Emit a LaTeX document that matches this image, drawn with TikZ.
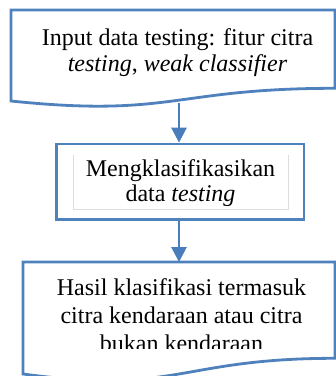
\documentclass[tikz,border=0pt]{standalone}
\usepackage{fontspec}
\setmainfont{Liberation Serif}
\usetikzlibrary{arrows.meta}
\definecolor{boxblue}{RGB}{79,129,189}
\definecolor{arrblue}{RGB}{74,126,187}
\definecolor{faint}{RGB}{222,222,222}
\begin{document}
\begin{tikzpicture}[x=1pt,y=-1pt,
  boxline/.style={draw=boxblue,line width=2.8pt,line join=miter},
  arr/.style={draw=arrblue,line width=2.8pt,-{Triangle[length=15pt,width=15pt]}},
  txt/.style={anchor=base,inner sep=0pt,font=\fontsize{24}{28}\selectfont}]
\useasboundingbox (0,0) rectangle (336,376);
% top document shape
\draw[boxline,fill=white] (11,10) -- (335,10) -- (335,88.3)
  .. controls (173,88.3) and (173,117.8) .. (11,101) -- cycle;
\coordinate (topout) at (179,102.5);
\node[txt] (t1) at (177.5,45) {Input data testing: fitur citra};
\node[txt] (t2) at (177.5,71) {\textit{testing}, \textit{weak classifier}};
% middle process box
\node[boxline,minimum width=247.3pt,minimum height=75.7pt,inner sep=0pt] (mid) at (180.35,181.85) {};
\draw[faint,line width=0.9pt] (73,155) -- (73,209) -- (288,209) -- (288,155);
\node[txt] (m1) at (180.5,176.7) {Mengklasifikasikan};
\node[txt] (m2) at (180.5,201.5) {data \textit{testing}};
% bottom document shape
\draw[boxline,fill=white] (23,262) -- (335,262) -- (335,358.3)
  .. controls (179,358.3) and (179,394.9) .. (23,374) -- cycle;
\coordinate (botin) at (179,262);
\begin{scope}
\clip (23,262) rectangle (335,348);
\node[txt] (b1) at (181.5,295) {Hasil klasifikasi termasuk};
\node[txt] (b2) at (181.5,323) {citra kendaraan atau citra};
\node[txt] (b3) at (181.5,351) {bukan kendaraan};
\end{scope}
% connectors
\draw[arr] (topout) -- (mid.north -| topout);
\draw[arr] (mid.south -| botin) -- (botin);
\end{tikzpicture}
\end{document}
